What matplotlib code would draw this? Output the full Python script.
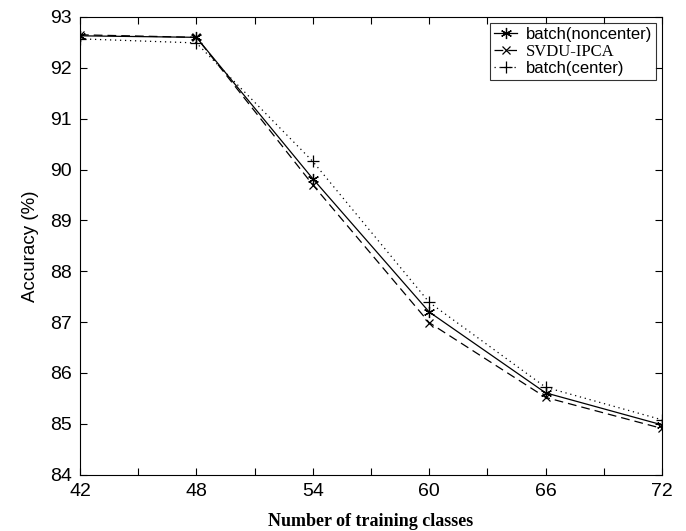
import matplotlib
matplotlib.use("Agg")
import matplotlib.pyplot as plt

# number of training classes
classes = [42, 48, 54, 60, 66, 72]

# accuracy (%) for each method
acc_noncenter = [92.63, 92.60, 89.82, 87.20, 85.61, 84.98]
acc_svdu = [92.65, 92.60, 89.70, 86.99, 85.52, 84.91]
acc_center = [92.57, 92.49, 90.16, 87.39, 85.72, 85.08]

x_ticks = [42, 45, 48, 51, 54, 57, 60, 63, 66, 69, 72]
x_labels = ["42", "", "48", "", "54", "", "60", "", "66", "", "72"]
y_ticks = [84, 85, 86, 87, 88, 89, 90, 91, 92, 93]

plt.rcParams['font.family'] = ['Liberation Sans', 'DejaVu Sans']

fig = plt.figure(figsize=(6.86, 5.31), dpi=100)
ax = fig.add_axes([0.1166, 0.106, 0.8484, 0.862])

ax.plot(classes, acc_noncenter, color='black', linewidth=0.9, linestyle='-',
        marker=(6, 2, 0), markersize=8, markeredgewidth=0.9, label='batch(noncenter)')
ax.plot(classes, acc_svdu, color='black', linewidth=0.9, linestyle=(0, (7, 4)),
        marker='x', markersize=6, markeredgewidth=0.9, label='SVDU-IPCA')
ax.plot(classes, acc_center, color='black', linewidth=0.9, linestyle=(0, (1, 3)),
        marker='+', markersize=9, markeredgewidth=0.9, label='batch(center)')

ax.set_xlim(42, 72)
ax.set_ylim(84, 93)
ax.set_xticks(x_ticks)
ax.set_xticklabels(x_labels)
ax.set_yticks(y_ticks)
ax.tick_params(direction='in', length=5, width=0.8, top=True, right=True,
               labelsize=14, pad=6)
for s in ax.spines.values():
    s.set_linewidth(0.8)

ax.set_ylabel('Accuracy (%)', fontsize=13.5, labelpad=8)
ax.set_xlabel('Number of training classes', fontsize=13, fontweight='bold',
              family='Liberation Serif', labelpad=9)

leg = ax.legend(loc='upper right', fontsize=12, frameon=True, fancybox=False,
                edgecolor='black', handlelength=1.4, handletextpad=0.5,
                borderaxespad=0.35, borderpad=0.25, labelspacing=0.1)
leg.get_frame().set_linewidth(0.8)
leg.get_texts()[1].set_family('Liberation Serif')

fig.savefig('out.png', dpi=100)
